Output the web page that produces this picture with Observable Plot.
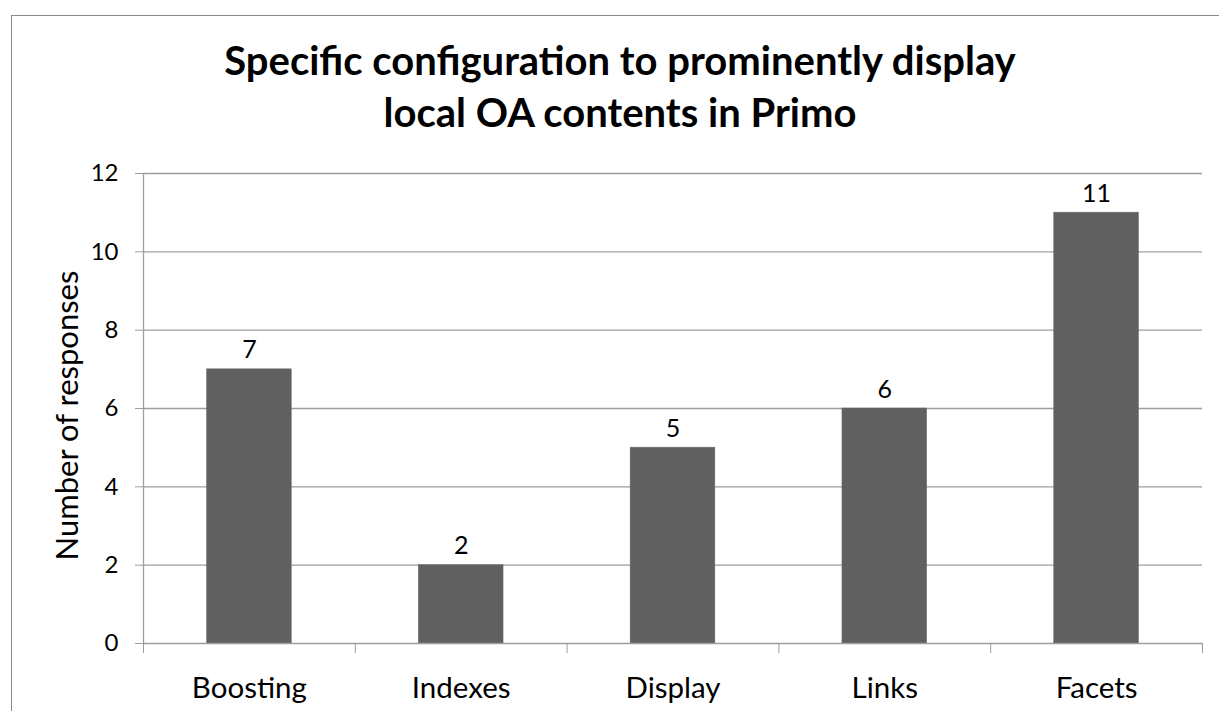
<!DOCTYPE html>
<html><head><meta charset="utf-8">
<script src="https://cdn.jsdelivr.net/npm/d3@7"></script>
<script src="https://cdn.jsdelivr.net/npm/@observablehq/plot@0.6"></script>
<style>
body{margin:0;background:#fff;font-family:Lato, "Open Sans", sans-serif;overflow:hidden;}
#frame{position:absolute;left:11px;top:15px;width:1300px;height:800px;border-left:1px solid #888;border-top:1px solid #888;}
#title{position:absolute;left:0;width:1240px;top:34px;text-align:center;font-weight:bold;font-size:40px;line-height:52px;color:#000;}
#chart{position:absolute;left:0;top:150px;}
</style>
</head><body>
<div id="frame"></div>
<div id="title">Specific configuration to prominently display<br>local OA contents in Primo</div>
<div id="chart"></div>
<script>
const categories = ["Boosting", "Indexes", "Display", "Links", "Facets"];
const values = [7, 2, 5, 6, 11];
const yTicks = [0, 2, 4, 6, 8, 10, 12];
const yLabel = "Number of responses";

const data = categories.map((c, i) => ({cat: c, i, value: values[i]}));
const grid = "#9d9d9d";

const chart = Plot.plot({
  width: 1219,
  height: 561,
  marginLeft: 143,
  marginRight: 17,
  marginTop: 23,
  marginBottom: 68,
  style: {fontFamily: "Lato, 'Open Sans', sans-serif", color: "#000", background: "transparent"},
  x: {domain: [0, categories.length], axis: null},
  y: {domain: [0, 12], axis: null},
  marks: [
    Plot.ruleY(yTicks.filter(v => v > 0), {stroke: grid, strokeWidth: 1.3}),
    Plot.rectY(data, {x1: d => d.i + 0.3, x2: d => d.i + 0.7, y: "value", fill: "#606060", stroke: "#6a6a6a", strokeWidth: 0.5}),
    Plot.ruleY([0], {stroke: grid, strokeWidth: 1.3}),
    Plot.ruleX([0], {stroke: grid, strokeWidth: 1.3}),
    Plot.axisY({ticks: yTicks, label: null, tickSize: 8, tickPadding: 17, fontSize: 24, stroke: grid, fill: "#000", tickFormat: d => String(d)}),
    Plot.axisX({ticks: d3.range(categories.length + 1), label: null, tickSize: 10, stroke: grid, tickFormat: () => ""}),
    Plot.text(data, {x: d => d.i + 0.5, y: 0, text: "cat", lineAnchor: "bottom", dy: 54, fontSize: 29.5, fill: "#000"}),
    Plot.text(data, {x: d => d.i + 0.5, y: "value", text: d => String(d.value), lineAnchor: "bottom", dy: -11, fontSize: 25, fill: "#000"}),
    Plot.text([yLabel], {frameAnchor: "left", textAnchor: "middle", dx: -75, dy: 7, rotate: -90, fontSize: 31, fill: "#000"})
  ]
});
document.getElementById("chart").appendChild(chart);
</script>
</body></html>
